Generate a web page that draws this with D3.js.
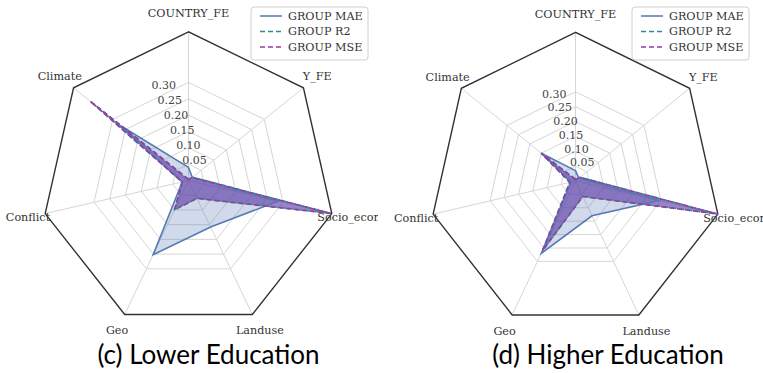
<!DOCTYPE html>
<html>
<head>
<meta charset="utf-8">
<script src="https://cdn.jsdelivr.net/npm/d3@7"></script>
<style>
  html, body { margin: 0; padding: 0; background: #fff; }
  svg { display: block; }
</style>
</head>
<body>
<svg id="chart" width="763" height="373"></svg>
<script>
// Axis categories, counter-clockwise from the top spoke
const categories = ["COUNTRY_FE", "Climate", "Conflict", "Geo", "Landuse", "Socio_econ", "Y_FE"];
const radialTicks = [0.05, 0.10, 0.15, 0.20, 0.25, 0.30];
const radialTickLabels = ["0.05", "0.10", "0.15", "0.20", "0.25", "0.30"];
const seriesNames = ["GROUP MAE", "GROUP R2", "GROUP MSE"];
const panelTitles = ["(c) Lower Education", "(d) Higher Education"];

// Lower education group
const lowerMAE = [0.040, 0.270, 0.020, 0.252, 0.158, 0.285, 0.015];
const lowerR2  = [0.004, 0.388, 0.020, 0.098, 0.060, 0.452, 0.016];
const lowerMSE = [0.003, 0.390, 0.020, 0.100, 0.061, 0.455, 0.015];
const lowerMax = 0.455;

// Higher education group
const higherMAE = [0.035, 0.150, 0.015, 0.270, 0.130, 0.295, 0.015];
const higherR2  = [0.006, 0.148, 0.020, 0.258, 0.057, 0.497, 0.020];
const higherMSE = [0.005, 0.150, 0.020, 0.260, 0.058, 0.500, 0.020];
const higherMax = 0.500;

const colors = { mae: "#5579b4", r2: "#2b8f8f", mse: "#9a3aa6" };
const serif = "'DejaVu Serif', serif";

const panels = [
  { title: panelTitles[0], series: [lowerMAE, lowerR2, lowerMSE], max: lowerMax,
    cx: 188.5, cy: 180.5, rx: 147, ry: 148.7, clipX: 0, clipW: 378, legendX: 251, titleX: 208.5 },
  { title: panelTitles[1], series: [higherMAE, higherR2, higherMSE], max: higherMax,
    cx: 575.5, cy: 181, rx: 146, ry: 148.7, clipX: 382, clipW: 381, legendX: 632, titleX: 608 }
];

const svg = d3.select("#chart");
const n = categories.length;
const angle = i => i * 2 * Math.PI / n;   // counter-clockwise from top

const styles = [
  { color: colors.mae, fill: colors.mae, fillOpacity: 0.28, dash: null },
  { color: colors.r2, fill: colors.r2, fillOpacity: 0.2, dash: "5,3" },
  { color: colors.mse, fill: "#6128a8", fillOpacity: 0.52, dash: "5,3" }
];

panels.forEach((p, pi) => {
  const r = d3.scaleLinear().domain([0, p.max]).range([0, 1]);
  const px = (v, i) => p.cx - r(v) * p.rx * Math.sin(angle(i));
  const py = (v, i) => p.cy - r(v) * p.ry * Math.cos(angle(i));

  const clipId = "clip" + pi;
  svg.append("clipPath").attr("id", clipId)
    .append("rect").attr("x", p.clipX).attr("y", 0)
    .attr("width", p.clipW).attr("height", 373);

  const g = svg.append("g").attr("clip-path", `url(#${clipId})`);

  const ring = d3.line()
    .x(d => px(d.v, d.i)).y(d => py(d.v, d.i))
    .curve(d3.curveLinearClosed);

  // grid rings
  g.selectAll(null).data(radialTicks).join("path")
    .attr("d", t => ring(categories.map((c, i) => ({ v: t, i }))))
    .attr("fill", "none").attr("stroke", "#d6d6d6").attr("stroke-width", 1);

  // spokes
  g.selectAll(null).data(categories).join("line")
    .attr("x1", p.cx).attr("y1", p.cy)
    .attr("x2", (c, i) => px(p.max, i)).attr("y2", (c, i) => py(p.max, i))
    .attr("stroke", "#d6d6d6").attr("stroke-width", 1);

  // outer frame
  g.append("path")
    .attr("d", ring(categories.map((c, i) => ({ v: p.max, i }))))
    .attr("fill", "none").attr("stroke", "#333").attr("stroke-width", 1.4);

  p.series.forEach((vals, si) => {
    const pts = vals.map((v, i) => ({ v, i }));
    g.append("path").attr("d", ring(pts))
      .attr("fill", styles[si].fill).attr("fill-opacity", styles[si].fillOpacity)
      .attr("stroke", "none");
  });
  p.series.forEach((vals, si) => {
    const pts = vals.map((v, i) => ({ v, i }));
    g.append("path").attr("d", ring(pts))
      .attr("fill", "none").attr("stroke", styles[si].color)
      .attr("stroke-width", 1.6)
      .attr("stroke-dasharray", styles[si].dash);
  });

  // radial tick labels along the 22.5° line
  const la = 22.5 * Math.PI / 180;
  g.selectAll(null).data(radialTicks).join("text")
    .attr("x", t => p.cx - r(t) * p.rx * Math.sin(la))
    .attr("y", t => p.cy - r(t) * p.ry * Math.cos(la) - 1)
    .attr("font-family", serif).attr("font-size", 11)
    .attr("fill", "#444")
    .text((t, k) => radialTickLabels[k]);

  // category labels
  g.selectAll(null).data(categories).join("text")
    .attr("x", (c, i) => px(p.max * 1.12, i))
    .attr("y", (c, i) => py(p.max * 1.12, i))
    .attr("text-anchor", "middle").attr("dominant-baseline", "central")
    .attr("font-family", serif).attr("font-size", 11.2)
    .attr("fill", "#333")
    .text(c => c);

  // legend
  const lg = g.append("g").attr("transform", `translate(${p.legendX},7)`);
  lg.append("rect").attr("width", 117).attr("height", 53).attr("rx", 3)
    .attr("fill", "#fff").attr("fill-opacity", 0.85)
    .attr("stroke", "#d0d0d0").attr("stroke-width", 1);
  seriesNames.forEach((name, si) => {
    const y = 9 + si * 15.5;
    lg.append("line").attr("x1", 9).attr("x2", 31).attr("y1", y).attr("y2", y)
      .attr("stroke", styles[si].color).attr("stroke-width", 1.5)
      .attr("stroke-dasharray", styles[si].dash);
    lg.append("text")
      .attr("x", 37).attr("y", y).attr("dominant-baseline", "central")
      .attr("font-family", serif).attr("font-size", 11.2).attr("fill", "#333")
      .text(name);
  });

  // panel title
  svg.append("text").attr("x", p.titleX).attr("y", 364)
    .attr("text-anchor", "middle")
    .attr("font-family", "Lato").attr("font-size", 26).attr("fill", "#000")
    .text(p.title);
});
</script>
</body>
</html>
